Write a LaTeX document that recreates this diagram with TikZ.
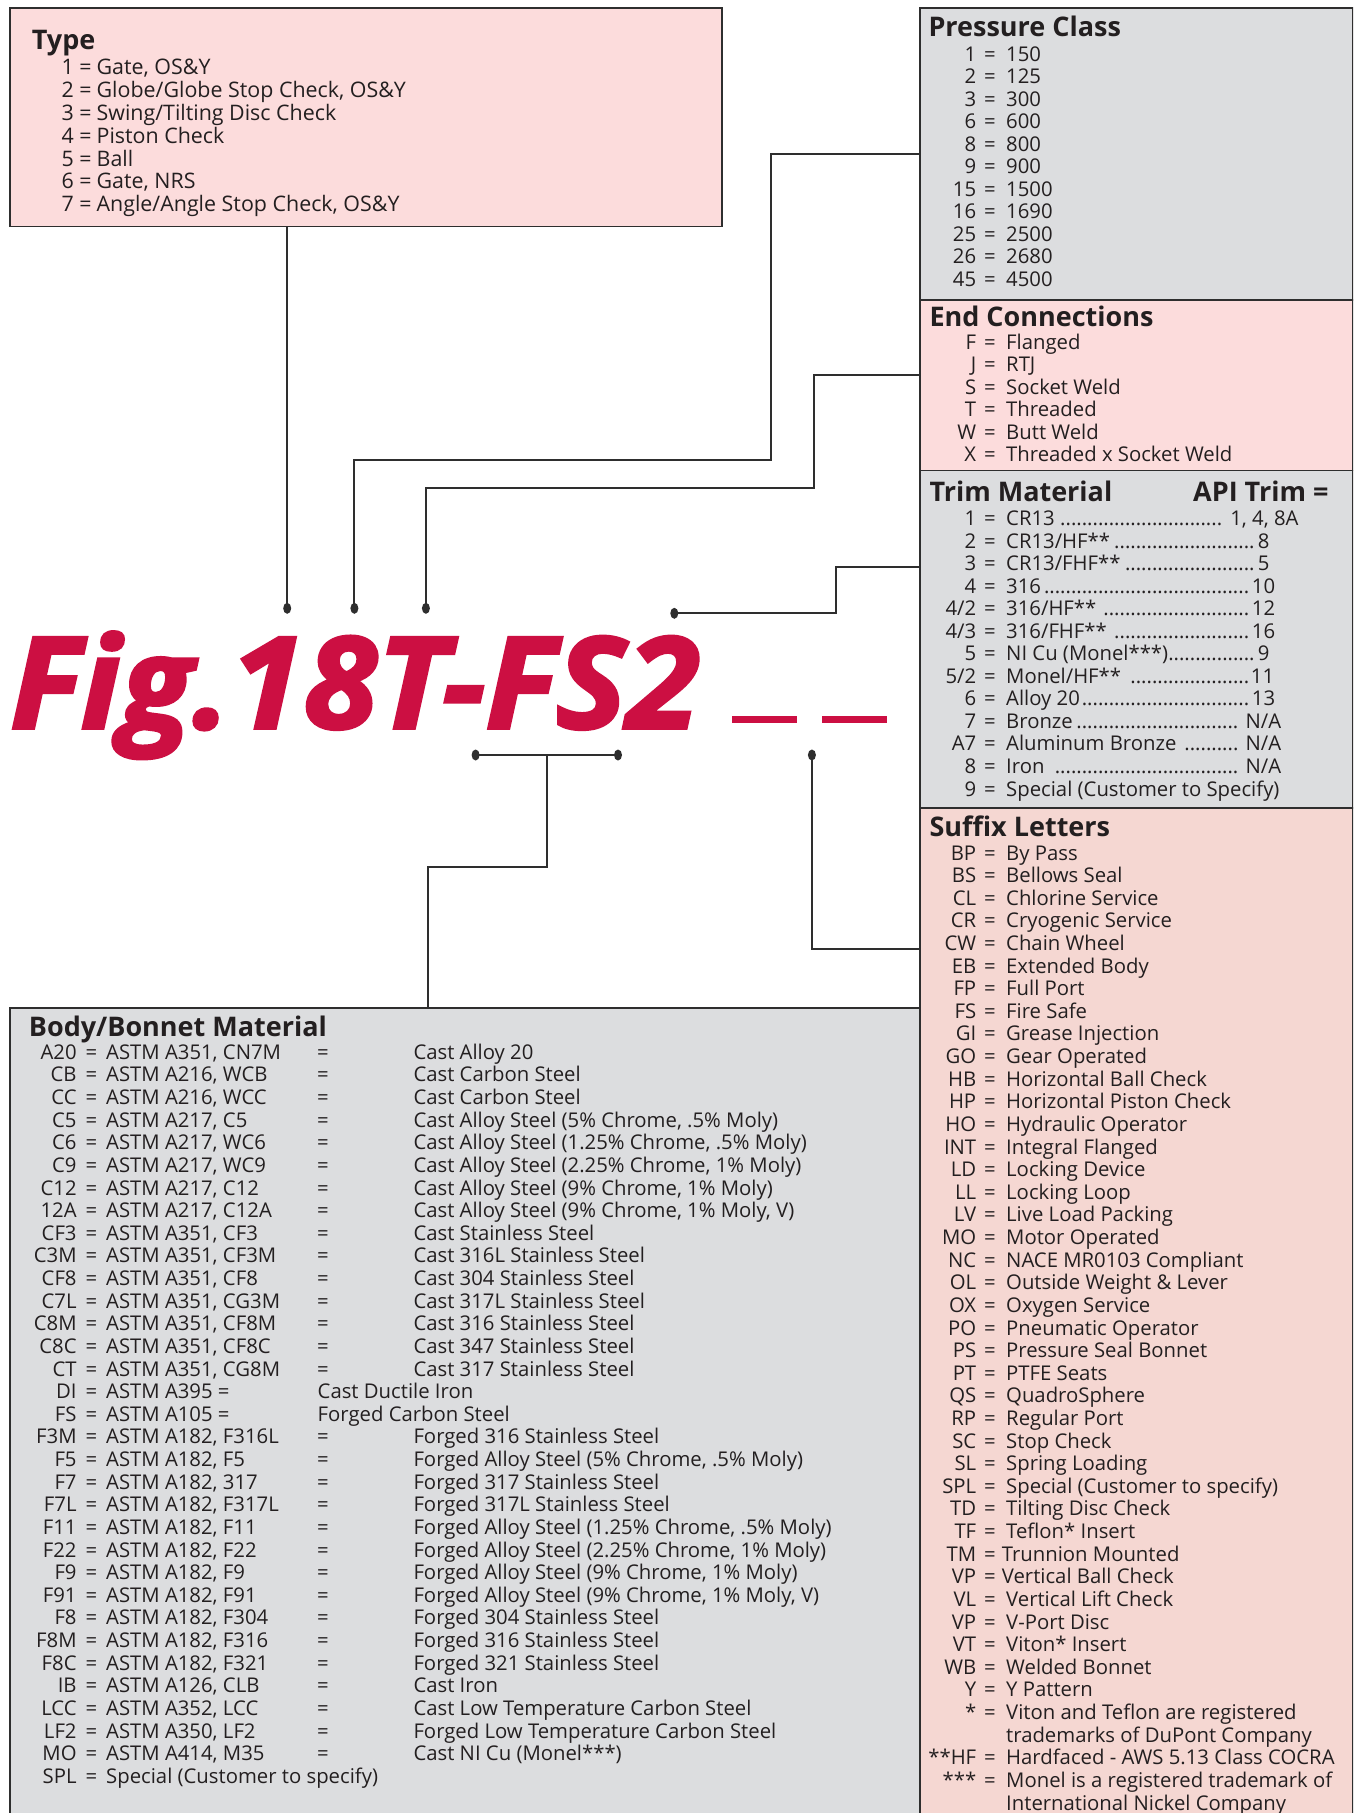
\documentclass[tikz,border=0pt]{standalone}
\usepackage{fontspec}
\setmainfont{Open Sans}
\newfontfamily\figfont{Open Sans}[FakeBold=2.5]
\usetikzlibrary{shapes.geometric}
\definecolor{pinkA}{HTML}{FCDCDC}
\definecolor{pinkB}{HTML}{F5D7D2}
\definecolor{grayA}{HTML}{DCDDDF}
\definecolor{lineC}{HTML}{2E2E2E}
\definecolor{txt}{HTML}{231F20}
\definecolor{figred}{HTML}{CC0F42}
\newlength\gA \newlength\gB
\newcommand\kv[2]{\llap{#1}\hspace{\gA}=\hspace{\gB}#2}
\newcommand\kvs[2]{\llap{#1}\hspace{\gA}=\hspace{6.2pt}#2}
\newcommand\lead{\leaders\hbox to 5.4pt{\hss.\hss}\hfill}
\newcommand\trm[4]{\kv{#1}{\hbox to #4pt{#2\lead#3}}}
\newcommand\bm[3]{\llap{#1}\hspace{9pt}=\hspace{9pt}\makebox[211pt][l]{#2}=\hspace{84.7pt}#3}
\newcommand\bn[3]{\llap{#1}\hspace{9pt}=\hspace{9pt}\makebox[211.5pt][l]{#2}#3}
\begin{document}
\begin{tikzpicture}[x=1pt,y=-1pt,
  box/.style={draw=lineC, line width=1.5pt, inner sep=0pt, anchor=north west},
  conn/.style={draw=lineC, line width=2pt},
  pin/.style={ellipse, fill=lineC, inner sep=0pt, minimum width=8pt, minimum height=11pt},
  title/.style={anchor=base west, inner sep=0pt, text=txt, font=\fontsize{27}{30}\selectfont\bfseries},
  list/.style={anchor=base west, inner sep=0pt, text=txt},
  bar/.style={fill=figred, draw=none, minimum width=65pt, minimum height=7pt, inner sep=0pt}
]
\useasboundingbox (0,0) rectangle (1353,1813);
\fill[white] (0,0) rectangle (1353,1813);
\begin{scope}
\clip (0,0) rectangle (1353,1813);
% boxes
\node[box, fill=pinkA, minimum width=711.7pt, minimum height=218.4pt] (typebox) at (9.3,7.3) {};
\node[box, fill=grayA, minimum width=910pt, minimum height=830pt] (bodybox) at (9,1007) {};
\node[box, fill=grayA, minimum width=433pt, minimum height=291.7pt] (presbox) at (919,7.3) {};
\node[box, fill=pinkA, minimum width=433pt, minimum height=170.7pt] (endbox) at (919,299) {};
\node[box, fill=grayA, minimum width=433pt, minimum height=337.3pt] (trimbox) at (919,469.7) {};
\node[box, fill=pinkB, minimum width=433pt, minimum height=1030pt] (sufbox) at (919,807) {};

% pins
\node[pin] (d1) at (287.2,608.3) {};
\node[pin] (d2) at (354.4,608.3) {};
\node[pin] (d3) at (425.9,608.3) {};
\node[pin] (d4) at (674.3,613.3) {};
\node[pin] (d5a) at (475.6,755) {};
\node[pin] (d5b) at (618,755) {};
\node[pin] (d6) at (811.9,755) {};

% corner coordinates
\coordinate (pw) at (919,154);
\coordinate (pc) at (770.7,460);
\coordinate (ew) at (919,375);
\coordinate (ec) at (814.3,487.7);
\coordinate (tw) at (919,566.7);
\coordinate (tc) at (836.1,613.3);
\coordinate (bj) at (547.1,755);
\coordinate (bc) at (427.9,867.3);
\coordinate (sw) at (919,949.3);

% connectors
\draw[conn] (typebox.south -| d1) -- (d1.center);
\draw[conn] (d2.center) |- (pc) |- (presbox.west |- pw);
\draw[conn] (d3.center) |- (ec) |- (endbox.west |- ew);
\draw[conn] (d4.center) -- (tc) |- (trimbox.west |- tw);
\draw[conn] (d5a.center) -- (d5b.center);
\draw[conn] (bj) |- (bc) -- (bodybox.north -| bc);
\draw[conn] (d6.center) |- (sufbox.west |- sw);

% figure designation
\node[anchor=base west, inner sep=0pt, text=figred] (fig) at (10,728.3)
  {\resizebox{689pt}{96.6pt}{\figfont\bfseries\itshape Fig.18T-FS2}};
\node[bar, anchor=west] (bar1) at (731.3,719.2) {};
\node[bar, anchor=west] (bar2) at (822.2,719.2) {};

% titles
\node[title] (ttype) at (31.7,49.5) {Type};
\node[title] (tpres) at (928.3,36.7) {Pressure Class};
\node[title] (tend) at (929.3,326) {End Connections};
\node[title] (ttrim) at (929.3,501.7) {Trim Material};
\node[title] (tapi) at (1193,501.7) {API Trim =};
\node[title] (tsuf) at (929.3,836.7) {Suffix Letters};
\node[title] (tbody) at (28.7,1036) {Body/Bonnet Material};

% Type list
\node[list, font=\fontsize{21.4}{22.33}\selectfont] (ltype) at (73.6,74.3)
{\setlength\gA{5.5pt}\setlength\gB{5.1pt}\begin{tabular}[t]{@{}l@{}}
\kv{1}{Gate, OS\&Y}\\
\kv{2}{Globe/Globe Stop Check, OS\&Y}\\
\kv{3}{Swing/Tilting Disc Check}\\
\kv{4}{Piston Check}\\
\kv{5}{Ball}\\
\kv{6}{Gate, NRS}\\
\kv{7}{Angle/Angle Stop Check, OS\&Y}
\end{tabular}};

% Pressure list
\node[list, font=\fontsize{20.3}{22.5}\selectfont] (lpres) at (976,61)
{\setlength\gA{7.9pt}\setlength\gB{10.5pt}\begin{tabular}[t]{@{}l@{}}
\kv{1}{150}\\
\kv{2}{125}\\
\kv{3}{300}\\
\kv{6}{600}\\
\kv{8}{800}\\
\kv{9}{900}\\
\kv{15}{1500}\\
\kv{16}{1690}\\
\kv{25}{2500}\\
\kv{26}{2680}\\
\kv{45}{4500}
\end{tabular}};

% End connections list
\node[list, font=\fontsize{20.3}{22.48}\selectfont] (lend) at (976,349.3)
{\setlength\gA{7.9pt}\setlength\gB{10.5pt}\begin{tabular}[t]{@{}l@{}}
\kv{F}{Flanged}\\
\kv{J}{RTJ}\\
\kv{S}{Socket Weld}\\
\kv{T}{Threaded}\\
\kv{W}{Butt Weld}\\
\kv{X}{Threaded x Socket Weld}
\end{tabular}};

% Trim list
\node[list, font=\fontsize{20.3}{22.525}\selectfont] (ltrim) at (976,525.7)
{\setlength\gA{7.9pt}\setlength\gB{10.5pt}\begin{tabular}[t]{@{}l@{}}
\trm{1}{CR13 }{ 1, 4, 8A}{292.3}\\
\trm{2}{CR13/HF**}{8}{263.3}\\
\trm{3}{CR13/FHF**}{5}{263.3}\\
\trm{4}{316}{10}{269}\\
\trm{4/2}{316/HF** }{12}{269}\\
\trm{4/3}{316/FHF** }{16}{269}\\
\trm{5}{NI Cu (Monel***)}{9}{263.3}\\
\trm{5/2}{Monel/HF** }{11}{268}\\
\trm{6}{Alloy 20}{13}{269}\\
\trm{7}{Bronze}{ N/A}{275}\\
\trm{A7}{Aluminum Bronze }{ N/A}{275}\\
\trm{8}{Iron }{ N/A}{275}\\
\kv{9}{Special (Customer to Specify)}
\end{tabular}};

% Suffix list
\node[list, font=\fontsize{20.3}{22.62}\selectfont] (lsuf) at (976,860)
{\setlength\gA{7.9pt}\setlength\gB{10.5pt}\begin{tabular}[t]{@{}l@{}}
\kv{BP}{By Pass}\\
\kv{BS}{Bellows Seal}\\
\kv{CL}{Chlorine Service}\\
\kv{CR}{Cryogenic Service}\\
\kv{CW}{Chain Wheel}\\
\kv{EB}{Extended Body}\\
\kv{FP}{Full Port}\\
\kv{FS}{Fire Safe}\\
\kv{GI}{Grease Injection}\\
\kv{GO}{Gear Operated}\\
\kv{HB}{Horizontal Ball Check}\\
\kv{HP}{Horizontal Piston Check}\\
\kv{HO}{Hydraulic Operator}\\
\kv{INT}{Integral Flanged}\\
\kv{LD}{Locking Device}\\
\kv{LL}{Locking Loop}\\
\kv{LV}{Live Load Packing}\\
\kv{MO}{Motor Operated}\\
\kv{NC}{NACE MR0103 Compliant}\\
\kv{OL}{Outside Weight \& Lever}\\
\kv{OX}{Oxygen Service}\\
\kv{PO}{Pneumatic Operator}\\
\kv{PS}{Pressure Seal Bonnet}\\
\kv{PT}{PTFE Seats}\\
\kv{QS}{QuadroSphere}\\
\kv{RP}{Regular Port}\\
\kv{SC}{Stop Check}\\
\kv{SL}{Spring Loading}\\
\kv{SPL}{Special (Customer to specify)}\\
\kv{TD}{Tilting Disc Check}\\
\kv{TF}{Teflon* Insert}\\
\kvs{TM}{Trunnion Mounted}\\
\kvs{VP}{Vertical Ball Check}\\
\kv{VL}{Vertical Lift Check}\\
\kv{VP}{V-Port Disc}\\
\kv{VT}{Viton* Insert}\\
\kv{WB}{Welded Bonnet}\\
\kv{Y}{Y Pattern}\\
\kv{*}{Viton and Teflon are registered}\\
\hspace{30pt}trademarks of DuPont Company\\
\kv{**HF}{Hardfaced - AWS 5.13 Class COCRA}\\
\kv{***}{Monel is a registered trademark of}\\
\hspace{30pt}International Nickel Company
\end{tabular}};

% Body list
\node[list, font=\fontsize{20.3}{22.625}\selectfont] (lbody) at (76.4,1059.3)
{\begin{tabular}[t]{@{}l@{}}
\bm{A20}{ASTM A351, CN7M}{Cast Alloy 20}\\
\bm{CB}{ASTM A216, WCB}{Cast Carbon Steel}\\
\bm{CC}{ASTM A216, WCC}{Cast Carbon Steel}\\
\bm{C5}{ASTM A217, C5}{Cast Alloy Steel (5\% Chrome, .5\% Moly)}\\
\bm{C6}{ASTM A217, WC6}{Cast Alloy Steel (1.25\% Chrome, .5\% Moly)}\\
\bm{C9}{ASTM A217, WC9}{Cast Alloy Steel (2.25\% Chrome, 1\% Moly)}\\
\bm{C12}{ASTM A217, C12}{Cast Alloy Steel (9\% Chrome, 1\% Moly)}\\
\bm{12A}{ASTM A217, C12A}{Cast Alloy Steel (9\% Chrome, 1\% Moly, V)}\\
\bm{CF3}{ASTM A351, CF3}{Cast Stainless Steel}\\
\bm{C3M}{ASTM A351, CF3M}{Cast 316L Stainless Steel}\\
\bm{CF8}{ASTM A351, CF8}{Cast 304 Stainless Steel}\\
\bm{C7L}{ASTM A351, CG3M}{Cast 317L Stainless Steel}\\
\bm{C8M}{ASTM A351, CF8M}{Cast 316 Stainless Steel}\\
\bm{C8C}{ASTM A351, CF8C}{Cast 347 Stainless Steel}\\
\bm{CT}{ASTM A351, CG8M}{Cast 317 Stainless Steel}\\
\bn{DI}{ASTM A395 =}{Cast Ductile Iron}\\
\bn{FS}{ASTM A105 =}{Forged Carbon Steel}\\
\bm{F3M}{ASTM A182, F316L}{Forged 316 Stainless Steel}\\
\bm{F5}{ASTM A182, F5}{Forged Alloy Steel (5\% Chrome, .5\% Moly)}\\
\bm{F7}{ASTM A182, 317}{Forged 317 Stainless Steel}\\
\bm{F7L}{ASTM A182, F317L}{Forged 317L Stainless Steel}\\
\bm{F11}{ASTM A182, F11}{Forged Alloy Steel (1.25\% Chrome, .5\% Moly)}\\
\bm{F22}{ASTM A182, F22}{Forged Alloy Steel (2.25\% Chrome, 1\% Moly)}\\
\bm{F9}{ASTM A182, F9}{Forged Alloy Steel (9\% Chrome, 1\% Moly)}\\
\bm{F91}{ASTM A182, F91}{Forged Alloy Steel (9\% Chrome, 1\% Moly, V)}\\
\bm{F8}{ASTM A182, F304}{Forged 304 Stainless Steel}\\
\bm{F8M}{ASTM A182, F316}{Forged 316 Stainless Steel}\\
\bm{F8C}{ASTM A182, F321}{Forged 321 Stainless Steel}\\
\bm{IB}{ASTM A126, CLB}{Cast Iron}\\
\bm{LCC}{ASTM A352, LCC}{Cast Low Temperature Carbon Steel}\\
\bm{LF2}{ASTM A350, LF2}{Forged Low Temperature Carbon Steel}\\
\bm{MO}{ASTM A414, M35}{Cast NI Cu (Monel***)}\\
\llap{SPL}\hspace{9pt}=\hspace{9pt}Special (Customer to specify)
\end{tabular}};
\end{scope}
\end{tikzpicture}
\end{document}
